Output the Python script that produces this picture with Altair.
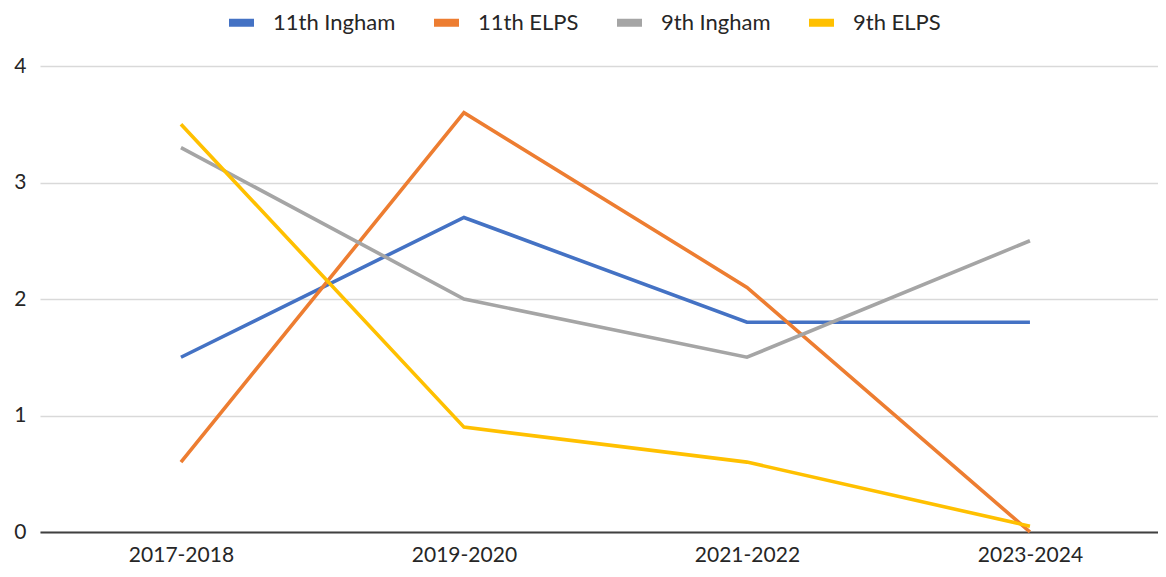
import altair as alt
import pandas as pd

years = ["2017-2018", "2019-2020", "2021-2022", "2023-2024"]
series_names = ["11th Ingham", "11th ELPS", "9th Ingham", "9th ELPS"]
ingham_11 = [1.5, 2.7, 1.8, 1.8]
elps_11 = [0.6, 3.6, 2.1, 0.0]
ingham_9 = [3.3, 2.0, 1.5, 2.5]
elps_9 = [3.5, 0.9, 0.6, 0.05]
colors = ["#4472C4", "#ED7D31", "#A5A5A5", "#FFC000"]

rows = []
for name, vals in zip(series_names, [ingham_11, elps_11, ingham_9, elps_9]):
    for yr, v in zip(years, vals):
        rows.append({"year": yr, "series": name, "value": v})
df = pd.DataFrame(rows)

FONT = "Lato"
TXT = "#262626"

chart = alt.Chart(df).mark_line(strokeWidth=3.6).encode(
    x=alt.X("year:O", sort=years, title=None,
            scale=alt.Scale(type="point", padding=0.4753, align=0.524),
            axis=alt.Axis(labelAngle=0, ticks=False, domainColor="#404040", domainWidth=2,
                          labelPadding=12, labelFontSize=21, labelColor=TXT,
                          labelFont=FONT, grid=False)),
    y=alt.Y("value:Q", title=None, scale=alt.Scale(domain=[0, 4], nice=False),
            axis=alt.Axis(values=[0, 1, 2, 3, 4], ticks=False, domain=False,
                          gridColor="#D9D9D9", gridWidth=1.3, labelPadding=14,
                          labelFontSize=21, labelColor=TXT, labelFont=FONT)),
    color=alt.Color("series:N", sort=series_names,
                    scale=alt.Scale(domain=series_names, range=colors),
                    legend=alt.Legend(title=None, orient="none", direction="horizontal",
                                      legendX=185, legendY=-60,
                                      symbolType="stroke", symbolSize=625,
                                      symbolStrokeWidth=8, labelFontSize=22,
                                      labelFont=FONT, labelColor=TXT,
                                      labelOffset=15, columnPadding=22)),
    order=alt.Order("year:O"),
).properties(
    width=1118, height=466,
    padding={"left": 32, "top": 58, "right": 0, "bottom": 34},
    autosize=alt.AutoSizeParams(type="none"),
).configure_view(stroke=None)

chart.save("out.html", embed_options={"renderer": "svg", "actions": False})
